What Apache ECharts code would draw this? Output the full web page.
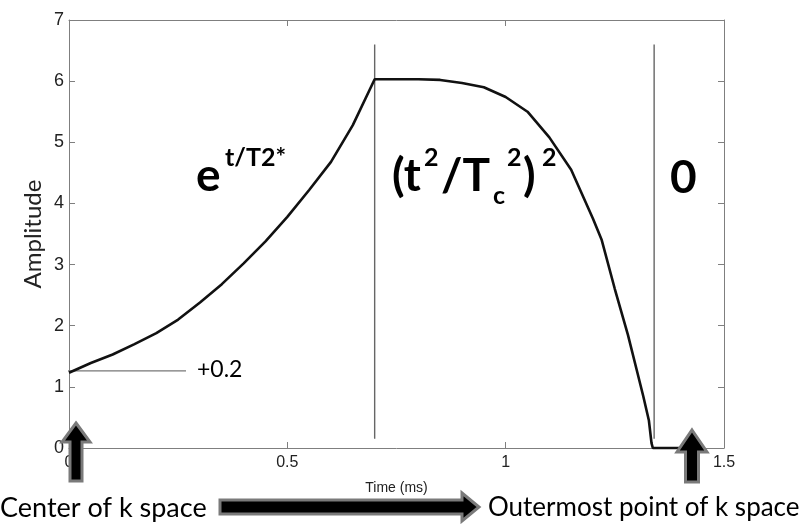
<!DOCTYPE html>
<html>
<head>
<meta charset="utf-8">
<script src="https://cdn.jsdelivr.net/npm/echarts@6/dist/echarts.min.js"></script>
<style>
  html, body { margin: 0; padding: 0; background: #fff; }
  #chart { width: 802px; height: 524px; }
</style>
</head>
<body>
<div id="chart"></div>
<script>
// Readout amplitude envelope over one echo (time in ms)
const timeMs = [0, 0.05, 0.10, 0.15, 0.20, 0.25, 0.30, 0.35, 0.40, 0.45, 0.50, 0.55, 0.60, 0.65, 0.70,
                0.75, 0.80, 0.85, 0.90, 0.95, 1.00, 1.05, 1.10, 1.15, 1.20, 1.22, 1.25, 1.28, 1.30,
                1.315, 1.328, 1.334, 1.337, 1.42];
const amplitude = [1.23, 1.39, 1.53, 1.70, 1.88, 2.10, 2.38, 2.68, 3.02, 3.38, 3.78, 4.22, 4.68, 5.28, 6.03,
                   6.03, 6.03, 6.02, 5.97, 5.90, 5.74, 5.50, 5.08, 4.55, 3.75, 3.40, 2.60, 1.85, 1.28,
                   0.85, 0.45, 0.08, 0, 0];

// Segment boundaries (vertical markers) and their vertical extent
const boundaryTimes = [0.7, 1.34];
const boundarySpan = [0.15, 6.6];

// Offset reference line near the start value
const offsetLineTimes = [-0.015, 0.268];
const offsetLineLevel = 1.26;

// Axis ranges: [min, max, interval]
const xRange = [0, 1.5, 0.5];
const yRange = [0, 7, 1];

const curve = timeMs.map((t, i) => [t, amplitude[i]]);

const frameColor = '#7f7f7f';
const tickFont = '"Liberation Sans", Arial, sans-serif';
const textFont = 'Lato, "Open Sans", sans-serif';

const chart = echarts.init(document.getElementById('chart'), null, { renderer: 'canvas' });

function makeX(pos, labels) {
  return {
    type: 'value', position: pos,
    min: xRange[0], max: xRange[1], interval: xRange[2],
    axisLine: { show: true, onZero: false, lineStyle: { color: frameColor, width: 1 } },
    axisTick: { show: true, inside: true, length: 6, lineStyle: { color: frameColor } },
    splitLine: { show: false },
    axisLabel: {
      show: labels, color: '#222', fontFamily: tickFont, fontSize: 16, margin: 7,
      formatter: v => String(v)
    },
    name: labels ? 'Time (ms)' : '', nameLocation: 'middle', nameGap: 33, nameMoveOverlap: false,
    nameTextStyle: { color: '#222', fontFamily: tickFont, fontSize: 14 }
  };
}
function makeY(pos, labels) {
  return {
    type: 'value', position: pos,
    min: yRange[0], max: yRange[1], interval: yRange[2],
    axisLine: { show: true, onZero: false, lineStyle: { color: frameColor, width: 1 } },
    axisTick: { show: true, inside: true, length: 6, lineStyle: { color: frameColor } },
    splitLine: { show: false },
    axisLabel: { show: labels, color: '#222', fontFamily: tickFont, fontSize: 18, margin: 5 },
    name: labels ? 'Amplitude' : '', nameLocation: 'middle', nameGap: 24, nameMoveOverlap: false,
    nameTextStyle: { color: '#222', fontFamily: textFont, fontSize: 24 }
  };
}

const series = [
  {
    type: 'line', data: curve, symbol: 'none', clip: false, z: 5,
    lineStyle: { color: '#111', width: 2.6 }
  },
  {
    type: 'line', symbol: 'none', clip: false, z: 3,
    data: offsetLineTimes.map(t => [t, offsetLineLevel]),
    lineStyle: { color: '#777', width: 1.2 }
  },
  // keeps the mirrored top/right axes bound to the grid
  { type: 'line', xAxisIndex: 1, yAxisIndex: 1, data: [], symbol: 'none' }
];
boundaryTimes.forEach(t => {
  series.push({
    type: 'line', symbol: 'none', z: 3,
    data: boundarySpan.map(v => [t, v]),
    lineStyle: { color: '#666', width: 1.4 }
  });
});

// Arrow outline helpers (pixel-space annotation shapes)
function upArrow(cx, tipY, headY, bottomY, headHalf, shaftHalf) {
  return {
    type: 'polygon', z: 100,
    shape: { points: [
      [cx, tipY], [cx + headHalf, headY], [cx + shaftHalf, headY], [cx + shaftHalf, bottomY],
      [cx - shaftHalf, bottomY], [cx - shaftHalf, headY], [cx - headHalf, headY]
    ] },
    style: { fill: '#000', stroke: '#7a7a7a', lineWidth: 3, lineJoin: 'miter' }
  };
}
function rightArrow(x0, tipX, headX, cy, headHalf, shaftHalf) {
  return {
    type: 'polygon', z: 100,
    shape: { points: [
      [x0, cy - shaftHalf], [headX, cy - shaftHalf], [headX, cy - headHalf], [tipX, cy],
      [headX, cy + headHalf], [headX, cy + shaftHalf], [x0, cy + shaftHalf]
    ] },
    style: { fill: '#000', stroke: '#7a7a7a', lineWidth: 3, lineJoin: 'miter' }
  };
}
function txt(x, y, text, size, bold, align) {
  return {
    type: 'text', z: 50, x: x, y: y,
    style: {
      text: text, fill: '#000', align: align || 'left', verticalAlign: 'middle',
      font: (bold ? 'bold ' : '') + size + 'px ' + textFont
    }
  };
}

chart.setOption({
  animation: false,
  backgroundColor: '#fff',
  grid: { left: 69, right: 78, top: 20, bottom: 76, containLabel: false },
  xAxis: [makeX('bottom', true), makeX('top', false)],
  yAxis: [makeY('left', true), makeY('right', false)],
  series: series,
  graphic: [
    // e^{t/T2*}
    txt(196, 176, 'e', 46, true),
    txt(225, 158, 't/T2*', 25, true),
    // (t^2/Tc^2)^2
    txt(392, 176, '(t', 46, true),
    txt(424, 158, '2', 25, true),
    txt(441, 176, '/T', 46, true),
    txt(493, 196, 'c', 25, true),
    txt(507, 158, '2', 25, true),
    txt(523, 176, ')', 46, true),
    txt(542, 158, '2', 25, true),
    // zero segment
    txt(670, 178, '0', 46, true),
    // offset label
    txt(197, 370, '+0.2', 23, false),
    // k-space labels
    txt(0, 508, 'Center of k space', 27, false),
    txt(488, 508, 'Outermost point of k space', 26, false),
    upArrow(76, 423, 442, 481, 14, 6),
    upArrow(692, 430, 452, 482, 15, 6.5),
    rightArrow(220, 479, 462, 507, 14, 7)
  ]
});
</script>
</body>
</html>
